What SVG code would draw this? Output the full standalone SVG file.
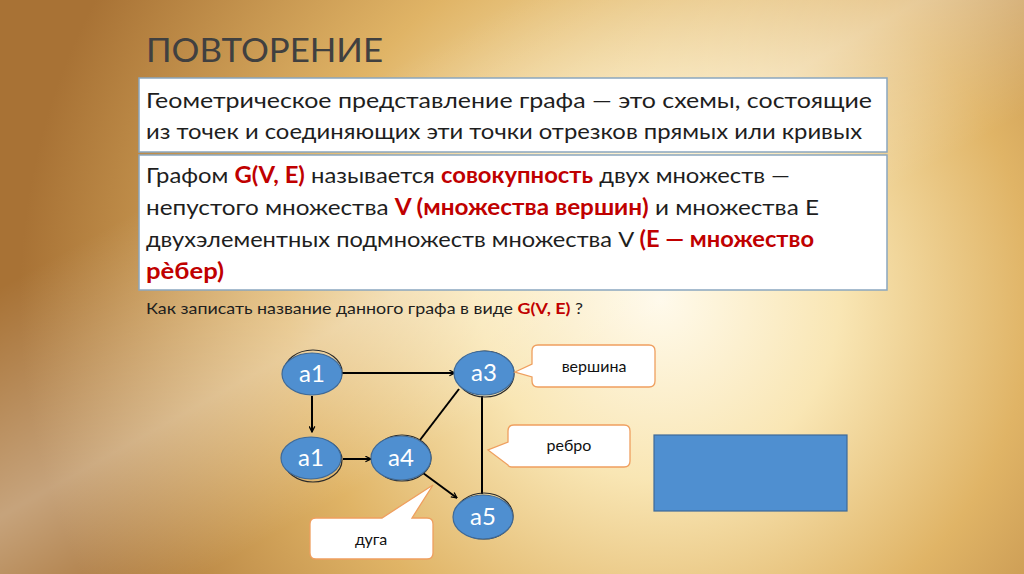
<svg xmlns="http://www.w3.org/2000/svg" width="1024" height="574" viewBox="0 0 1024 574">
<defs>
<radialGradient id="bg" cx="660" cy="300" r="640" gradientUnits="userSpaceOnUse">
<stop offset="0" stop-color="#fffaeb"/>
<stop offset="0.28" stop-color="#f9e6b4"/>
<stop offset="0.58" stop-color="#e0b466"/>
<stop offset="1" stop-color="#a87235"/>
</radialGradient>
<linearGradient id="streak" x1="0" y1="0" x2="1" y2="1">
<stop offset="0.25" stop-color="#fff" stop-opacity="0"/>
<stop offset="0.45" stop-color="#fff" stop-opacity="0.35"/>
<stop offset="0.6" stop-color="#fff" stop-opacity="0"/>
</linearGradient>
<marker id="arr" viewBox="0 0 10 10" refX="9" refY="5" markerWidth="7" markerHeight="7" orient="auto" markerUnits="userSpaceOnUse">
<path d="M1,1 L9,5 L1,9" fill="none" stroke="#000" stroke-width="1.8"/>
</marker>
<style>
.box{fill:#fff;stroke:#8aa6bf;stroke-width:1.5}
.t{font-family:Lato,"Open Sans",sans-serif;fill:#1e1e1e}
.r{fill:#c00000;font-weight:bold}
.node{fill:#4f8fd0;stroke:#3f6a98;stroke-width:1.2}
.sh{fill:none;stroke:#2a2a2a;stroke-width:1.2}
.nl{font-family:Lato,"Open Sans",sans-serif;font-size:24px;fill:#fff;text-anchor:middle}
.co{fill:#fff;stroke:#ef9f5f;stroke-width:1.3}
.ct{font-family:Lato,"Open Sans",sans-serif;font-size:16px;fill:#111;text-anchor:middle}
.e{stroke:#000;stroke-width:2;fill:none}
</style>
</defs>
<rect width="1024" height="574" fill="url(#bg)"/>
<rect width="1024" height="574" fill="url(#streak)"/>
<text x="146" y="62" class="t" font-size="33" style="fill:#404040" textLength="237" lengthAdjust="spacingAndGlyphs">ПОВТОРЕНИЕ</text>
<g id="def1">
<rect class="box" x="139" y="78" width="748" height="74"/>
<text class="t" x="146" y="108" font-size="21" textLength="726" lengthAdjust="spacingAndGlyphs">Геометрическое  представление  графа  —  это  схемы,  состоящие</text>
<text class="t" x="146" y="139" font-size="21" textLength="716" lengthAdjust="spacingAndGlyphs">из  точек  и соединяющих эти точки отрезков прямых или кривых</text>
</g>
<g id="def2">
<rect class="box" x="139" y="155" width="748" height="135"/>
<text class="t" x="146" y="183" font-size="22" textLength="644" lengthAdjust="spacingAndGlyphs">Графом <tspan class="r">G(V, E)</tspan> называется <tspan class="r">совокупность</tspan> двух множеств —</text>
<text class="t" x="146" y="215" font-size="22" textLength="673" lengthAdjust="spacingAndGlyphs">непустого множества <tspan class="r">V (множества вершин)</tspan> и множества E</text>
<text class="t" x="146" y="247" font-size="22" textLength="668" lengthAdjust="spacingAndGlyphs">двухэлементных подмножеств множества V <tspan class="r">(E — множество</tspan></text>
<text class="t" x="146" y="279" font-size="22" textLength="78" lengthAdjust="spacingAndGlyphs"><tspan class="r">рѐбер)</tspan></text>
</g>
<text class="t" x="146" y="314" font-size="16" textLength="437" lengthAdjust="spacingAndGlyphs">Как записать название данного графа в виде <tspan class="r">G(V, E)</tspan> ?</text>
<g id="connectors">
<line class="e" x1="342" y1="373" x2="455" y2="373" marker-end="url(#arr)"/>
<line class="e" x1="312" y1="396" x2="312" y2="432" marker-end="url(#arr)"/>
<line class="e" x1="343" y1="459" x2="371" y2="459" marker-end="url(#arr)"/>
<line class="e" x1="420" y1="440" x2="459" y2="389"/>
<line class="e" x1="482" y1="396" x2="482" y2="494"/>
<line class="e" x1="423" y1="473" x2="457" y2="498" marker-end="url(#arr)"/>
</g>
<g id="n-a1-top">
<ellipse class="sh" cx="313" cy="372" rx="29" ry="22"/>
<ellipse class="node" cx="312" cy="374" rx="30" ry="21"/>
<text class="nl" x="312" y="382">a1</text>
</g>
<g id="n-a3">
<ellipse class="sh" cx="485" cy="374" rx="29" ry="23"/>
<ellipse class="node" cx="484" cy="373" rx="30" ry="22"/>
<text class="nl" x="484" y="381">a3</text>
</g>
<g id="n-a1-bottom">
<ellipse class="sh" cx="313" cy="460" rx="29" ry="22"/>
<ellipse class="node" cx="311" cy="458" rx="30" ry="21"/>
<text class="nl" x="311" y="466">a1</text>
</g>
<g id="n-a4">
<ellipse class="sh" cx="402" cy="458" rx="29" ry="23"/>
<ellipse class="node" cx="401" cy="458" rx="30" ry="22"/>
<text class="nl" x="401" y="466">a4</text>
</g>
<g id="n-a5">
<ellipse class="sh" cx="484" cy="516" rx="29" ry="23"/>
<ellipse class="node" cx="483" cy="517" rx="30" ry="22"/>
<text class="nl" x="483" y="525">a5</text>
</g>
<g id="c-vershina">
<path class="co" d="M538,345 H649 Q655,345 655,351 V381 Q655,387 649,387 H538 Q532,387 532,381 V377 L515,372 L532,364 V351 Q532,345 538,345 Z"/>
<text class="ct" x="594" y="372">вершина</text>
</g>
<g id="c-rebro">
<path class="co" d="M514,425 H624 Q630,425 630,431 V461 Q630,467 624,467 H514 Q508,467 508,465 L488,450 L508,442 V431 Q508,425 514,425 Z"/>
<text class="ct" x="569" y="451">ребро</text>
</g>
<g id="c-duga">
<path class="co" d="M316,518 H382 L433,485 L412,518 H427 Q433,518 433,524 V553 Q433,559 427,559 H316 Q310,559 310,553 V524 Q310,518 316,518 Z"/>
<text class="ct" x="371" y="545">дуга</text>
</g>
<rect id="blue-box" x="654" y="435" width="193" height="76" fill="#4f8fd0" stroke="#3f6a98" stroke-width="1.2"/>
</svg>
